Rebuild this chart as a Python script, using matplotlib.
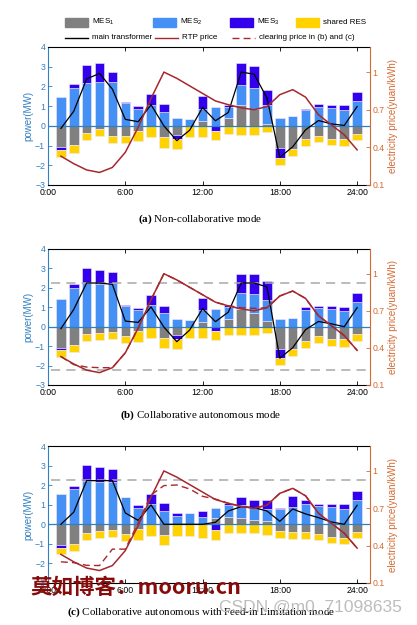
import numpy as np
import matplotlib.pyplot as plt
from matplotlib.patches import Rectangle
from matplotlib.lines import Line2D

plt.rcParams['font.family'] = ['Liberation Sans', 'DejaVu Sans']
plt.rcParams['mathtext.fontset'] = 'custom'
plt.rcParams['mathtext.rm'] = 'Liberation Sans'
plt.rcParams['mathtext.it'] = 'Liberation Sans:italic'
plt.rcParams['mathtext.bf'] = 'Liberation Serif:bold'

hours = np.arange(1, 25)
xtick_pos = [0, 6, 12, 18, 24]
xtick_labels = ['0:00', '6:00', '12:00', '18:00', '24:00']
price_ticks = [0.1, 0.4, 0.7, 1.0]
price_labels = ['0.1', '0.4', '0.7', '1']
limit = 2.25

# (a) non-collaborative
mes1_a = [-1.08, -0.98, -0.34, -0.17, -0.49, -0.49, -0.27, 0.0, -0.58, -0.47, 0.0, 0.27,
          0.0, 0.41, 1.08, 0.88, 0.10, -1.12, -1.19, -0.68, -0.53, -0.66, -0.68, -0.39]
mes2_a = [1.45, 1.93, 2.18, 2.20, 2.25, 1.17, 0.86, 1.08, 0.71, 0.42, 0.34, 0.61,
          0.95, 0.56, 0.99, 1.02, 0.95, 0.40, 0.49, 0.80, 0.97, 0.90, 0.80, 1.25]
mes3_a = [-0.12, 0.17, 0.90, 0.97, 0.46, 0.02, 0.14, 0.56, 0.39, -0.18, 0.0, 0.64,
          -0.25, 0.11, 1.10, 1.15, 0.76, -0.50, 0.0, 0.03, 0.13, 0.17, 0.25, 0.48]
res_a = [-0.38, -0.38, -0.36, -0.34, -0.36, -0.36, -0.52, -0.57, -0.52, -0.52, -0.56, -0.57,
         -0.45, -0.42, -0.44, -0.44, -0.31, -0.36, -0.34, -0.35, -0.30, -0.32, -0.35, -0.34]
grid_a = [-0.13, 0.74, 2.38, 2.66, 1.86, 0.33, 0.21, 1.07, 0.0, -0.75, -0.22, 0.93,
          0.26, 0.68, 2.73, 2.62, 1.42, -1.60, -1.06, -0.20, 0.27, 0.10, 0.02, 0.98]

# (b) collaborative autonomous
mes1_b = [-1.08, -0.93, -0.39, -0.34, -0.29, -0.46, -0.24, 0.0, -0.60, -0.45, 0.0, 0.24,
          0.0, 0.38, 0.89, 0.72, 0.29, -1.13, -1.17, -0.72, -0.48, -0.62, -0.65, -0.39]
mes2_b = [1.44, 1.97, 2.26, 2.18, 2.26, 1.08, 0.84, 1.11, 0.69, 0.41, 0.34, 0.62,
          0.93, 0.63, 0.86, 0.98, 1.07, 0.38, 0.46, 0.86, 0.98, 0.89, 0.81, 1.25]
mes3_b = [-0.12, 0.21, 0.74, 0.75, 0.55, 0.02, 0.14, 0.50, 0.39, -0.20, 0.0, 0.63,
          -0.22, 0.10, 0.94, 0.99, 0.99, -0.47, 0.0, 0.14, 0.10, 0.17, 0.22, 0.47]
res_b = [-0.34, -0.36, -0.36, -0.36, -0.36, -0.36, -0.53, -0.57, -0.50, -0.52, -0.57, -0.57,
         -0.47, -0.43, -0.45, -0.45, -0.34, -0.37, -0.34, -0.36, -0.34, -0.38, -0.38, -0.35]
grid_b = [-0.10, 0.89, 2.25, 2.25, 2.18, 0.29, 0.22, 1.02, -0.02, -0.77, -0.17, 0.93,
          0.26, 0.75, 2.25, 2.25, 2.05, -1.62, -1.08, -0.15, 0.27, 0.15, 0.0, 0.98]

# (c) collaborative autonomous with feed-in limitation
mes1_c = [-1.08, -0.99, -0.43, -0.32, -0.27, -0.48, -0.26, 0.0, -0.56, 0.0, 0.0, 0.0,
          0.30, 0.38, 0.34, 0.20, 0.15, -0.34, -0.39, -0.39, -0.51, -0.65, -0.68, -0.39]
mes2_c = [1.54, 1.78, 2.22, 2.17, 2.17, 1.40, 0.84, 1.06, 0.68, 0.44, 0.58, 0.36,
          0.54, 0.59, 0.66, 0.69, 0.62, 0.77, 0.89, 1.03, 0.94, 0.89, 0.80, 1.26]
mes3_c = [-0.12, 0.19, 0.81, 0.74, 0.65, 0.0, 0.13, 0.51, 0.41, 0.14, 0.0, 0.32,
          -0.30, 0.14, 0.37, 0.37, 0.45, 0.08, 0.56, 0.23, 0.12, 0.14, 0.23, 0.43]
res_c = [-0.34, -0.38, -0.36, -0.36, -0.36, -0.37, -0.56, -0.60, -0.52, -0.58, -0.58, -0.68,
         -0.49, -0.44, -0.44, -0.44, -0.55, -0.36, -0.35, -0.35, -0.31, -0.31, -0.35, -0.31]
grid_c = [0.0, 0.62, 2.23, 2.23, 2.23, 0.58, 0.20, 0.99, 0.0, 0.0, 0.0, 0.0,
          0.10, 0.68, 0.90, 0.85, 0.68, 0.15, 0.78, 0.53, 0.34, 0.12, 0.0, 0.97]

# prices (yuan/kWh)
rtp = [0.33, 0.27, 0.22, 0.20, 0.24, 0.36, 0.56, 0.79, 1.00, 0.95, 0.89, 0.83,
       0.77, 0.74, 0.715, 0.70, 0.725, 0.82, 0.86, 0.80, 0.66, 0.58, 0.50, 0.38]
clear_b = [0.33, 0.265, 0.245, 0.24, 0.24, 0.36, 0.56, 0.79, 1.00, 0.95, 0.89, 0.83,
           0.77, 0.74, 0.725, 0.72, 0.725, 0.82, 0.86, 0.80, 0.66, 0.58, 0.50, 0.38]
clear_c = [0.27, 0.263, 0.242, 0.24, 0.372, 0.372, 0.584, 0.807, 0.882, 0.887, 0.855, 0.796,
           0.774, 0.74, 0.715, 0.70, 0.725, 0.82, 0.86, 0.80, 0.66, 0.58, 0.50, 0.38]

c_mes = ['#808080', '#4490F5', '#3300EE', '#FFD200']
c_left = '#2f7fc1'
c_right = '#D66A32'
c_price = '#A6282E'
c_limit = '#a8a8a8'

W, H = 417, 625
fig = plt.figure(figsize=(W / 100, H / 100), dpi=100)


def stacked_bars(ax, series):
    pos = np.zeros(len(hours))
    neg = np.zeros(len(hours))
    for vals, col in zip(series, c_mes):
        vals = np.asarray(vals, dtype=float)
        bottom = np.where(vals >= 0, pos, neg)
        ax.bar(hours, vals, bottom=bottom, width=0.74, color=col,
               edgecolor='#eeeaff', linewidth=0.4, zorder=2)
        pos += np.clip(vals, 0, None)
        neg += np.clip(vals, None, 0)


def panel(box, series, grid, clearing=None, limits=()):
    ax = fig.add_axes(box)
    stacked_bars(ax, series)
    ax.axhline(0, color=c_left, lw=0.9, zorder=3)
    for lv in limits:
        ax.axhline(lv, xmin=0.01, xmax=0.99, color=c_limit, lw=1.1,
                   ls=(0, (6, 4)), zorder=3)
    ax.plot(hours, grid, color='black', lw=0.9, zorder=4)
    ax.set_xlim(0, 25)
    ax.set_ylim(-3, 4)
    ax.set_yticks(range(-3, 5))
    ax.set_xticks(xtick_pos)
    ax.set_xticklabels(xtick_labels)
    ax.tick_params(axis='x', direction='in', top=True, length=3, width=0.6,
                   labelsize=6.3, pad=2)
    ax.tick_params(axis='y', direction='in', length=3, width=0.6, colors=c_left,
                   labelsize=6.3, pad=2)
    ax.spines['left'].set_color(c_left)
    ax.spines['right'].set_visible(False)
    for s in ax.spines.values():
        s.set_linewidth(0.8)
    ax.set_ylabel('power(MW)', color=c_left, fontsize=7, labelpad=1)

    ax2 = ax.twinx()
    ax2.plot(hours, rtp, color=c_price, lw=1.1, zorder=3)
    if clearing is not None:
        ax2.plot(hours, clearing, color=c_price, lw=1.0, ls=(0, (5, 3)), zorder=3)
    ax2.set_ylim(0.1, 1.2)
    ax2.set_yticks(price_ticks)
    ax2.set_yticklabels(price_labels)
    ax2.tick_params(axis='y', direction='in', length=3, width=0.6, colors=c_right,
                    labelsize=6.3, pad=2)
    for side in ['left', 'top', 'bottom']:
        ax2.spines[side].set_visible(False)
    ax2.spines['right'].set_color(c_right)
    ax2.spines['right'].set_linewidth(0.8)
    ax2.set_ylabel('electricity price(yuan/kWh)', color=c_right, fontsize=7, labelpad=2)
    return ax


panel([48 / W, 1 - 185 / H, 322 / W, 138 / H],
      [mes1_a, mes2_a, mes3_a, res_a], grid_a)
panel([48 / W, 1 - 385 / H, 322 / W, 136 / H],
      [mes1_b, mes2_b, mes3_b, res_b], grid_b, clear_b, (limit, -limit))
panel([48 / W, 1 - 583 / H, 322 / W, 137 / H],
      [mes1_c, mes2_c, mes3_c, res_c], grid_c, clear_c, (limit,))

# legend drawn by hand to follow the original grid
legend_patches = [('MES$_1$', c_mes[0], 65), ('MES$_2$', c_mes[1], 153),
                  ('MES$_3$', c_mes[2], 230), ('shared RES', c_mes[3], 296)]
for label, col, x in legend_patches:
    fig.add_artist(Rectangle((x / W, 1 - 27 / H), 23 / W, 9.5 / H, color=col,
                             transform=fig.transFigure))
    fig.text((x + 27) / W, 1 - 22 / H, label, fontsize=5.8, va='center')

legend_lines = [('main transformer', 'black', '-', 65),
                ('RTP price', c_price, '-', 155),
                ('clearing price in (b) and (c)', c_price, (0, (5, 3)), 232)]
for label, col, ls, x in legend_lines:
    fig.add_artist(Line2D([x / W, (x + 23) / W], [1 - 37.5 / H] * 2, color=col, ls=ls,
                          lw=1.0, transform=fig.transFigure))
    fig.text((x + 27) / W, 1 - 37.5 / H, label, fontsize=5.8, va='center')

cap_kw = dict(family=['Liberation Serif'], fontsize=7.9, ha='center', va='center')
fig.text(200 / W, 1 - 219 / H, r'$\mathbf{(a)}$ Non-collaborative mode', **cap_kw)
fig.text(201 / W, 1 - 415 / H, r'$\mathbf{(b)}$ Collaborative autonomous mode', **cap_kw)
fig.text(201 / W, 1 - 612 / H,
         r'$\mathbf{(c)}$ Collaborative autonomous with Feed-in Limitation mode', **cap_kw)

# watermarks
fig.text(30 / W, 1 - 587 / H, '莫如博客：mooru.cn', family=['Noto Sans CJK SC', 'DejaVu Sans'],
         fontsize=15.5, fontweight='bold', color='#860c0c', va='center', zorder=20)
fig.text(402 / W, 1 - 607 / H, 'CSDN @m0_71098635', fontsize=12.5, color='#bdbdbd',
         ha='right', va='center', zorder=20)

fig.savefig('out.png', dpi=100)
